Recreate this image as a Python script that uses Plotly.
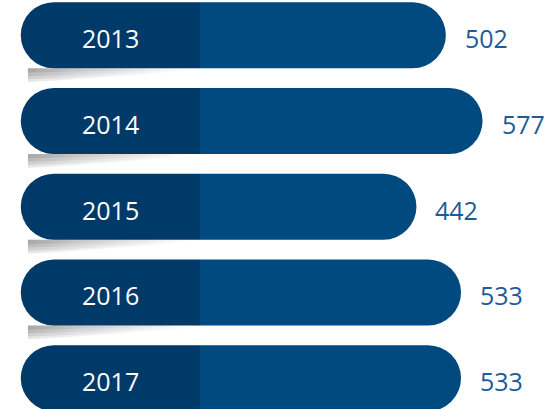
import plotly.graph_objects as go

years = ["2013", "2014", "2015", "2016", "2017"]
values = [502, 577, 442, 533, 533]
tab_len = 366  # width of the dark year tab, in axis units

DARK = "#003A69"
LIGHT = "#004A80"
LABEL = "#1D5C98"
FONT = "Open Sans, Segoe UI, sans-serif"
BARGAP = 0.23

pos = list(range(len(years)))
half = (1 - BARGAP) / 2

fig = go.Figure()

# soft drop shadow under each year tab: a few stacked translucent wedges
for depth in (0.05, 0.09, 0.13, 0.16):
    sx, sy = [], []
    for p in pos:
        sx += [-tab_len * 0.96, -tab_len * 0.96, -tab_len * 0.8, -tab_len * 0.45,
               -tab_len * 0.05, -tab_len * 0.05, None]
        sy += [p + half, p + half + depth, p + half + depth * 0.9,
               p + half + depth * 0.55, p + half + depth * 0.2, p + half, None]
    fig.add_trace(go.Scatter(
        x=sx, y=sy, mode="lines", line=dict(width=0), fill="toself",
        fillgradient=dict(type="horizontal", colorscale=[
            [0, "rgba(0,0,0,0.10)"], [0.3, "rgba(0,0,0,0.06)"],
            [0.75, "rgba(0,0,0,0.02)"], [1, "rgba(0,0,0,0)"]]),
        hoverinfo="skip",
    ))

fig.add_trace(go.Bar(
    y=pos, x=[-tab_len] * len(years), orientation="h",
    marker=dict(color=DARK, cornerradius="50%", line=dict(width=0)),
    hoverinfo="skip",
))
fig.add_trace(go.Bar(
    y=pos, x=values, orientation="h",
    marker=dict(color=LIGHT, cornerradius="50%", line=dict(width=0)),
    hoverinfo="skip",
))

for p, yr, v in zip(pos, years, values):
    fig.add_annotation(x=-tab_len / 2, y=p, text=yr, showarrow=False,
                       xanchor="center", yanchor="middle", yshift=-3,
                       font=dict(color="white", size=25, family=FONT))
    fig.add_annotation(x=v, y=p, text=str(v), showarrow=False,
                       xanchor="left", yanchor="middle", xshift=17, yshift=-3,
                       font=dict(color=LABEL, size=25, family=FONT))

fig.update_layout(
    width=548, height=409,
    margin=dict(l=0, r=0, t=0, b=0),
    barmode="relative", bargap=BARGAP,
    plot_bgcolor="white", paper_bgcolor="white",
    showlegend=False,
    xaxis=dict(range=[-408.4, 710.6], visible=False, fixedrange=True),
    yaxis=dict(range=[4.359, -0.41], visible=False, fixedrange=True),
)

fig.write_html("out.html", config={"displayModeBar": False},
               post_script="document.body.style.margin='0';")
